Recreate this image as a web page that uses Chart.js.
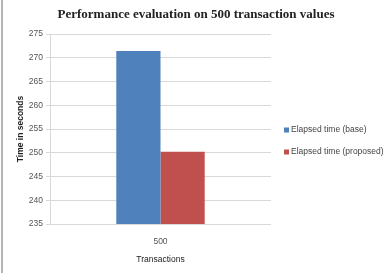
<!DOCTYPE html>
<html>
<head>
<meta charset="utf-8">
<script src="https://cdn.jsdelivr.net/npm/chart.js@4"></script>
<style>
  html, body { margin: 0; padding: 0; background: #fff; }
  #wrap { position: relative; width: 387px; height: 273px; }
  #wrap:before { content: ''; position: absolute; left: 1px; top: 0; bottom: 0; width: 2px; background: #b4b4b4; }
</style>
</head>
<body>
<div id="wrap"><canvas id="perfChart" width="387" height="273"></canvas></div>
<script>
// data
const categories = ['500'];
const baseTimes = [271.4];
const proposedTimes = [250.2];
const seriesNames = ['Elapsed time (base)', 'Elapsed time (proposed)'];
const yTicks = [235, 240, 245, 250, 255, 260, 265, 270, 275];
const chartTitle = 'Performance evaluation on 500 transaction values';

// title centred on the whole picture + small legend at the right
const decorations = {
    id: 'decorations',
    afterDraw(chart) {
        const ctx = chart.ctx;
        ctx.save();
        ctx.font = 'bold 13px "Liberation Serif", serif';
        ctx.fillStyle = '#222';
        ctx.textAlign = 'center';
        ctx.textBaseline = 'middle';
        ctx.fillText(chartTitle, 196, 15);

        ctx.font = '8.5px "Liberation Sans", sans-serif';
        ctx.textAlign = 'left';
        chart.data.datasets.forEach((ds, i) => {
            const y = 130 + i * 22;
            ctx.fillStyle = ds.backgroundColor;
            ctx.fillRect(284, y - 2.5, 5, 5);
            ctx.fillStyle = '#444';
            ctx.fillText(ds.label, 291, y);
        });
        ctx.restore();
    }
};

const ctx = document.getElementById('perfChart').getContext('2d');
new Chart(ctx, {
    type: 'bar',
    data: {
        labels: categories,
        datasets: [
            { label: seriesNames[0], data: baseTimes, backgroundColor: '#4f81bd' },
            { label: seriesNames[1], data: proposedTimes, backgroundColor: '#c0504d' }
        ]
    },
    options: {
        responsive: false,
        animation: false,
        layout: { padding: { left: 0, right: 116, top: 34, bottom: 8 } },
        plugins: {
            legend: { display: false },
            tooltip: { enabled: false },
            title: { display: false }
        },
        datasets: { bar: { barPercentage: 1, categoryPercentage: 0.4 } },
        scales: {
            x: {
                afterFit: (s) => { s.height = 41; },
                grid: { display: false },
                border: { display: false },
                ticks: { color: '#555', font: { family: '"Liberation Sans", sans-serif', size: 8.5 }, padding: 5 },
                title: { display: true, text: 'Transactions', color: '#222', font: { family: '"Liberation Sans", sans-serif', size: 8.5 }, padding: { top: 4, bottom: 0 } }
            },
            y: {
                min: 235,
                max: 275,
                afterBuildTicks: (s) => { s.ticks = yTicks.map(v => ({ value: v })); },
                afterFit: (s) => { s.width = 50; },
                grid: { color: '#d9d9d9', tickLength: 4 },
                border: { color: '#d9d9d9' },
                ticks: { color: '#555', font: { family: '"Liberation Sans", sans-serif', size: 8.5 }, padding: 3 },
                title: { display: true, text: 'Time in seconds', color: '#222', font: { family: '"Liberation Sans", sans-serif', size: 8.5, weight: 'bold' }, padding: { top: 16, bottom: 0 } }
            }
        }
    },
    plugins: [decorations]
});
</script>
</body>
</html>
